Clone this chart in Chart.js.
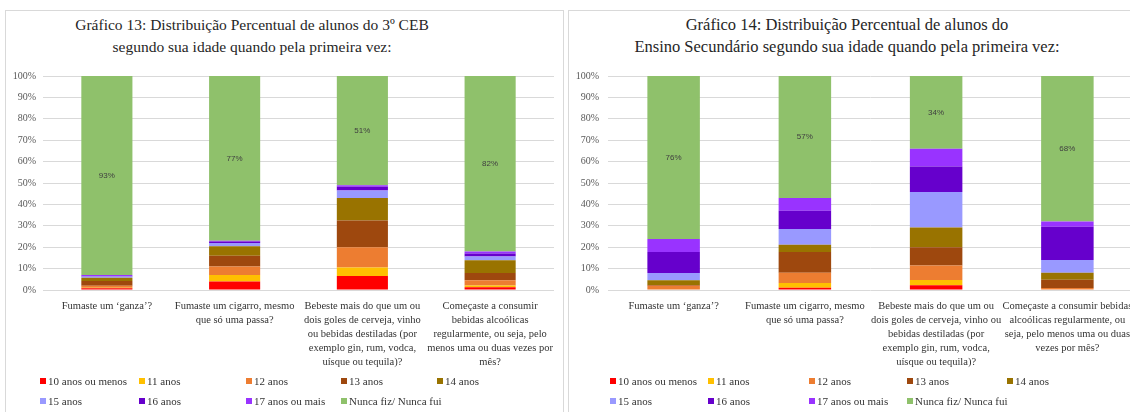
<!DOCTYPE html>
<html>
<head>
<meta charset="utf-8">
<script src="https://cdn.jsdelivr.net/npm/chart.js@4.4.1/dist/chart.umd.min.js"></script>
<style>
  html, body { margin: 0; padding: 0; background: #fff; overflow: hidden; width: 1130px; height: 412px; }
  .frame { position: absolute; top: 10px; height: 420px; border: 1px solid #d9d9d9; box-sizing: border-box; }
  .wrap { position: absolute; top: 10px; height: 402px; }
  .title { position: absolute; top: 14px; text-align: center; font-family: "Liberation Serif", serif;
           line-height: 22px; color: #262626; white-space: nowrap; }
  .legend { position: absolute; top: 374px; display: grid;
            row-gap: 5px; font-family: "Liberation Serif", serif; font-size: 11px; line-height: 15px; color: #333; }
  .legend div { white-space: nowrap; }
  .legend i { display: inline-block; width: 6px; height: 6px; margin-right: 2px; vertical-align: 1px; }
</style>
</head>
<body>
<div class="frame" style="left:5px;width:559px"></div>
<div class="frame" style="left:568px;width:580px"></div>

<div class="title" style="left:0;width:504px;font-size:15.5px">Gráfico 13: Distribuição Percentual de alunos do 3º CEB<br>segundo sua idade quando pela primeira vez:</div>
<div class="title" style="left:565px;width:564px;font-size:16.5px">Gráfico 14: Distribuição Percentual de alunos do<br>Ensino Secundário segundo sua idade quando pela primeira vez:</div>

<div class="wrap" style="left:5px;width:558px"><canvas id="c1"></canvas></div>
<div class="wrap" style="left:568px;width:575px"><canvas id="c2"></canvas></div>

<div class="legend" id="lg1" style="left:40px;grid-template-columns:99px 107px 95px 96px 99px"></div>
<div class="legend" id="lg2" style="left:610px;grid-template-columns:98px 101px 98px 100px 99px"></div>

<script>
// series shared by both charts
const seriesLabels = ['10 anos ou menos', '11 anos', '12 anos', '13 anos', '14 anos',
  '15 anos', '16 anos', '17 anos ou mais', 'Nunca fiz/ Nunca fui'];
const seriesColors = ['#ff0000', '#ffc000', '#ed7d31', '#9e480e', '#997300',
  '#9999ff', '#6600cc', '#9933ff', '#8fc16b'];

// Gráfico 13 - 3º CEB
const categories13 = [
  'Fumaste um ‘ganza’?',
  ['Fumaste um cigarro, mesmo', 'que só uma passa?'],
  ['Bebeste mais do que um ou', 'dois goles de cerveja, vinho', 'ou bebidas destiladas (por', 'exemplo gin, rum, vodca,', 'uísque ou tequila)?'],
  ['Começaste a consumir', 'bebidas alcoólicas', 'regularmente, ou seja, pelo', 'menos uma ou duas vezes por', 'mês?']
];
const ceb10 = [0.8, 4.0, 6.5, 1.3];
const ceb11 = [0.3, 3.0, 4.0, 0.8];
const ceb12 = [0.9, 4.0, 9.5, 2.4];
const ceb13 = [2.2, 5.0, 12.5, 3.4];
const ceb14 = [1.5, 4.5, 10.5, 6.0];
const ceb15 = [0.6, 1.5, 3.5, 1.8];
const ceb16 = [0.3, 0.7, 1.8, 1.4];
const ceb17 = [0.4, 0.3, 0.7, 0.9];
const cebNunca = [93, 77, 51, 82];

// Gráfico 14 - Ensino Secundário
const categories14 = [
  'Fumaste um ‘ganza’?',
  ['Fumaste um cigarro, mesmo', 'que só uma passa?'],
  ['Bebeste mais do que um ou', 'dois goles de cerveja, vinho ou', 'bebidas destiladas (por', 'exemplo gin, rum, vodca,', 'uísque ou tequila)?'],
  ['Começaste a consumir bebidas', 'alcoólicas regularmente, ou', 'seja, pelo menos uma ou duas', 'vezes por mês?']
];
const sec10 = [0, 1.1, 2.2, 0];
const sec11 = [0, 2.2, 2.5, 0];
const sec12 = [2.0, 4.8, 6.8, 0.9];
const sec13 = [0.3, 9.6, 8.5, 3.9];
const sec14 = [2.3, 3.4, 9.2, 3.3];
const sec15 = [3.4, 7.4, 16.6, 5.9];
const sec16 = [9.8, 8.5, 11.9, 15.5];
const sec17 = [6.0, 6.0, 8.3, 2.5];
const secNunca = [76.2, 57, 34, 68];

const yTicks = [0, 10, 20, 30, 40, 50, 60, 70, 80, 90, 100];

// percentage label in the middle of the "Nunca" segment
const nuncaLabels = {
  id: 'nuncaLabels',
  afterDatasetsDraw(chart) {
    const last = chart.data.datasets.length - 1;
    const meta = chart.getDatasetMeta(last);
    const ctx = chart.ctx;
    ctx.save();
    ctx.font = '8px "Liberation Sans", sans-serif';
    ctx.fillStyle = '#404040';
    ctx.textAlign = 'center';
    ctx.textBaseline = 'middle';
    meta.data.forEach((bar, i) => {
      const v = chart.data.datasets[last].data[i];
      ctx.fillText(Math.round(v) + '%', bar.x, (bar.y + bar.base) / 2);
    });
    ctx.restore();
  }
};

function makeChart(id, categories, series, yWidth, padRight) {
  const datasets = series.map((data, i) => ({
    label: seriesLabels[i],
    data: data,
    backgroundColor: seriesColors[i],
    borderWidth: 0,
    barPercentage: 0.5,
    categoryPercentage: 0.8
  }));
  return new Chart(document.getElementById(id), {
    type: 'bar',
    data: { labels: categories, datasets: datasets },
    options: {
      responsive: true,
      maintainAspectRatio: false,
      animation: false,
      layout: { padding: { top: 66, right: padRight, left: 0, bottom: 0 } },
      plugins: { legend: { display: false }, tooltip: { enabled: false }, title: { display: false } },
      scales: {
        x: {
          stacked: true,
          grid: { display: false },
          border: { display: false },
          ticks: {
            autoSkip: false, maxRotation: 0, minRotation: 0, padding: 1,
            color: '#333',
            font: { family: 'Liberation Serif', size: 10.5, lineHeight: 1.33 }
          },
          afterFit(s) { s.height = 122; s.paddingLeft = 0; s.paddingRight = 0; }
        },
        y: {
          stacked: true,
          min: 0, max: 100,
          afterBuildTicks(s) { s.ticks = yTicks.map(v => ({ value: v })); },
          grid: { color: '#d9d9d9', drawTicks: false },
          border: { display: false },
          ticks: {
            padding: yWidth - 31, color: '#595959',
            font: { family: 'Liberation Serif', size: 10 },
            callback: v => v + '%'
          },
          afterFit(s) { s.width = yWidth; s.paddingTop = 0; s.paddingBottom = 0; }
        }
      }
    },
    plugins: [nuncaLabels]
  });
}

makeChart('c1', categories13, [ceb10, ceb11, ceb12, ceb13, ceb14, ceb15, ceb16, ceb17, cebNunca], 38, 9);
makeChart('c2', categories14, [sec10, sec11, sec12, sec13, sec14, sec15, sec16, sec17, secNunca], 40, 10);

function buildLegend(id) {
  const el = document.getElementById(id);
  seriesLabels.forEach((lab, i) => {
    const d = document.createElement('div');
    d.innerHTML = '<i style="background:' + seriesColors[i] + '"></i>' + lab;
    el.appendChild(d);
  });
}
buildLegend('lg1');
buildLegend('lg2');
</script>
</body>
</html>
